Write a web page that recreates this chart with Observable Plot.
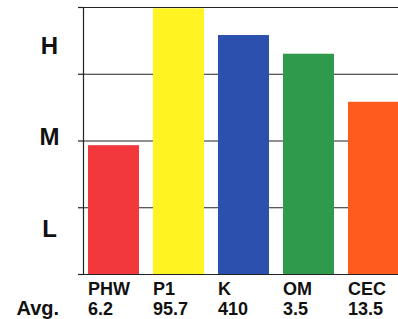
<!DOCTYPE html>
<html>
<head>
<meta charset="utf-8">
<script src="https://cdn.jsdelivr.net/npm/d3@7"></script>
<script src="https://cdn.jsdelivr.net/npm/@observablehq/plot@0.6"></script>
<style>
  html, body { margin: 0; padding: 0; background: #fff; overflow: hidden; }
</style>
</head>
<body>
<div id="chart"></div>
<script>
const categories = ["PHW", "P1", "K", "OM", "CEC"];
const averages = ["6.2", "95.7", "410", "3.5", "13.5"];
const levels = [1.93, 3.98, 3.58, 3.30, 2.58];
const colors = ["#f2383c", "#fff321", "#2c50ae", "#2f9a4c", "#ff5b1e"];
const gridValues = [0, 1, 2, 3, 4];
const levelLabels = ["L", "M", "H"];
const levelLabelPos = [0.67, 2.06, 3.42];
const rowLabel = "Avg.";

const data = categories.map((c, i) => ({cat: c, avg: averages[i], value: levels[i], color: colors[i]}));
const labelData = levelLabels.map((l, i) => ({label: l, y: levelLabelPos[i]}));
const font = "'Liberation Sans', Arial, sans-serif";

const chart = Plot.plot({
  width: 398,
  height: 319,
  marginTop: 7,
  marginBottom: 45,
  marginLeft: 83,
  marginRight: 0,
  style: {fontFamily: font, background: "#fff", overflow: "hidden"},
  x: {domain: categories, range: [83, 405], paddingInner: 0.21, paddingOuter: 0.045, axis: null},
  y: {domain: [0, 4], axis: null},
  marks: [
    Plot.ruleY(gridValues, {stroke: "#222", strokeWidth: 1.2, x1: categories[0], x2: categories[4], insetLeft: -3}),
    Plot.ruleY(gridValues, {stroke: "#222", strokeWidth: 1.2}),
    Plot.axisY({ticks: gridValues, tickSize: 5, tickFormat: () => "", stroke: "#222", strokeWidth: 1.2, strokeOpacity: 1}),
    Plot.frame({anchor: "left", stroke: "#222", strokeWidth: 1.2}),
    Plot.barY(data, {x: "cat", y: "value", fill: "color"}),
    Plot.text(labelData, {y: "y", text: "label", frameAnchor: "left", dx: -34, textAnchor: "middle", fontSize: 24, fontWeight: "bold", fill: "#111"}),
    Plot.text(data, {x: "cat", text: "cat", frameAnchor: "bottom", dx: -26, textAnchor: "start", lineAnchor: "top", dy: 8, fontSize: 18, fontWeight: "bold", fill: "#111"}),
    Plot.text(data, {x: "cat", text: "avg", frameAnchor: "bottom", dx: -26, textAnchor: "start", lineAnchor: "top", dy: 28, fontSize: 18, fontWeight: "bold", fill: "#111"}),
    Plot.text([rowLabel], {text: d => d, frameAnchor: "bottom-left", dx: -67, textAnchor: "start", lineAnchor: "top", dy: 26, fontSize: 20, fontWeight: "bold", fill: "#111"})
  ]
});
document.getElementById("chart").appendChild(chart);
</script>
</body>
</html>
